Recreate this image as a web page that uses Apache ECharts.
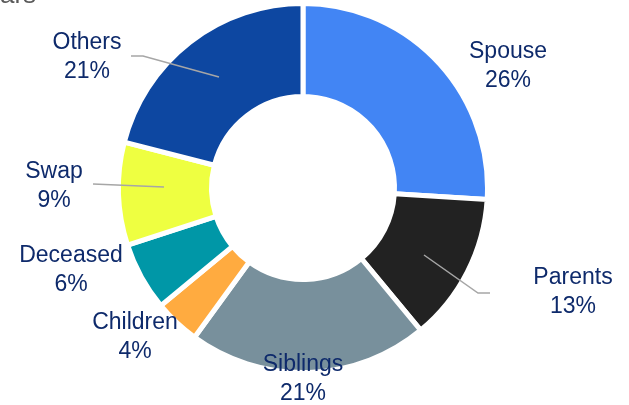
<!DOCTYPE html>
<html><head><meta charset="utf-8">
<script src="https://cdn.jsdelivr.net/npm/echarts@6/dist/echarts.min.js"></script>
<style>html,body{margin:0;padding:0;background:#fff}#c{width:629px;height:405px}</style>
</head><body><div id="c"></div>
<script>
const categories = ['Spouse', 'Parents', 'Siblings', 'Children', 'Deceased', 'Swap', 'Others'];
const shares = [26, 13, 21, 4, 6, 9, 21];
const sliceColors = ['#4285F4', '#222222', '#78909C', '#FFAB40', '#0097A7', '#EEFF41', '#0D47A1'];

// label placement (layout only)
const labelAnchors = [[508, 66], [573, 292], [303, 379], [135, 337], [71, 270], [54, 186], [87, 57]];
const leaderLines = [
  [[424, 255], [478, 293], [490, 293]],
  [[164, 187], [93, 184]],
  [[219, 77], [143, 56], [131, 56]]
];

const chart = echarts.init(document.getElementById('c'), null, {renderer: 'canvas'});
const data = categories.map((name, i) => ({
  name: name,
  value: shares[i],
  itemStyle: {color: sliceColors[i]}
}));

const graphics = [{
  type: 'text', left: 0, top: -17, z: 100,
  style: {text: 'ars', fill: '#595959', font: '26px "Liberation Sans", Arial, sans-serif'}
}].concat(leaderLines.map(pts => ({
  type: 'polyline', z: 100, silent: true,
  shape: {points: pts},
  style: {stroke: '#A6A6A6', lineWidth: 1.5, fill: null}
})));

chart.setOption({
  animation: false,
  backgroundColor: '#ffffff',
  graphic: graphics,
  series: [{
    type: 'pie',
    center: [303, 188],
    radius: [91.5, 184.5],
    startAngle: 90,
    clockwise: true,
    avoidLabelOverlap: false,
    itemStyle: {borderColor: '#ffffff', borderWidth: 5},
    label: {
      show: true,
      position: 'outside',
      formatter: p => p.name + '\n' + p.value + '%',
      color: '#0E2A6B',
      fontFamily: '"Liberation Sans", Arial, sans-serif',
      fontSize: 23,
      lineHeight: 29,
      align: 'center'
    },
    labelLine: {show: false},
    labelLayout: function (params) {
      const a = labelAnchors[params.dataIndex];
      return {x: a[0], y: a[1], align: 'center', verticalAlign: 'middle'};
    },
    data: data
  }]
});
</script>
</body></html>
